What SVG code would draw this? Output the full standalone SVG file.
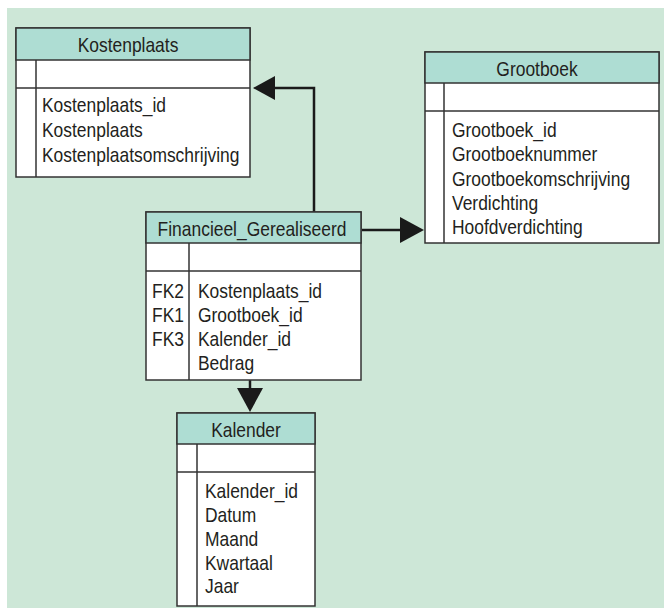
<svg xmlns="http://www.w3.org/2000/svg" width="664" height="608" viewBox="0 0 664 608">
<style>
.box{fill:#ffffff;stroke:#333333;stroke-width:1.5}
.hdr{fill:#aeddd3;stroke:#333333;stroke-width:1.5}
.ln{stroke:#333333;stroke-width:1.5;fill:none}
.t{font-family:"Liberation Sans",Arial,sans-serif;font-size:20.5px;fill:#231f20}
.h{font-family:"Liberation Sans",Arial,sans-serif;font-size:20.5px;fill:#231f20;text-anchor:middle}
.con{stroke:#1a1a1a;stroke-width:2.5;fill:none}
.ah{fill:#1a1a1a}
</style>
<rect x="7" y="8" width="657" height="600" fill="#cde7d7"/>
<g id="connectors">
<polyline class="con" points="314,212 314,88 272,88"/>
<polygon class="ah" points="253,88 275,76 275,100"/>
<line class="con" x1="362" y1="230" x2="402" y2="230"/>
<polygon class="ah" points="424,230 400,217 400,243"/>
<line class="con" x1="250" y1="380" x2="250" y2="392"/>
<polygon class="ah" points="250,412 237,388 263,388"/>
</g>
<g id="Kostenplaats">
<rect class="box" x="16" y="28" width="234" height="149"/>
<rect class="hdr" x="16" y="28" width="234" height="32"/>
<line class="ln" x1="16" y1="88" x2="250" y2="88"/>
<line class="ln" x1="36" y1="60" x2="36" y2="177"/>
<text class="h" transform="translate(128,52) scale(0.85,1)">Kostenplaats</text>
<text class="t" transform="translate(42,112) scale(0.85,1)">Kostenplaats_id</text>
<text class="t" transform="translate(42,137) scale(0.85,1)">Kostenplaats</text>
<text class="t" transform="translate(42,162) scale(0.85,1)">Kostenplaatsomschrijving</text>
</g>
<g id="Grootboek">
<rect class="box" x="425" y="52" width="234" height="191"/>
<rect class="hdr" x="425" y="52" width="234" height="31"/>
<line class="ln" x1="425" y1="111" x2="659" y2="111"/>
<line class="ln" x1="444" y1="83" x2="444" y2="243"/>
<text class="h" transform="translate(537,76) scale(0.85,1)">Grootboek</text>
<text class="t" transform="translate(452,137) scale(0.85,1)">Grootboek_id</text>
<text class="t" transform="translate(452,161) scale(0.85,1)">Grootboeknummer</text>
<text class="t" transform="translate(452,186) scale(0.85,1)">Grootboekomschrijving</text>
<text class="t" transform="translate(452,210) scale(0.85,1)">Verdichting</text>
<text class="t" transform="translate(452,234) scale(0.85,1)">Hoofdverdichting</text>
</g>
<g id="Financieel_Gerealiseerd">
<rect class="box" x="146" y="212" width="215" height="168"/>
<rect class="hdr" x="146" y="212" width="215" height="31"/>
<line class="ln" x1="146" y1="271" x2="361" y2="271"/>
<line class="ln" x1="189" y1="243" x2="189" y2="380"/>
<text class="h" transform="translate(252,236) scale(0.85,1)">Financieel_Gerealiseerd</text>
<text class="t" transform="translate(152,298) scale(0.85,1)">FK2</text>
<text class="t" transform="translate(152,322) scale(0.85,1)">FK1</text>
<text class="t" transform="translate(152,346) scale(0.85,1)">FK3</text>
<text class="t" transform="translate(198,298) scale(0.85,1)">Kostenplaats_id</text>
<text class="t" transform="translate(198,322) scale(0.85,1)">Grootboek_id</text>
<text class="t" transform="translate(198,346) scale(0.85,1)">Kalender_id</text>
<text class="t" transform="translate(198,370) scale(0.85,1)">Bedrag</text>
</g>
<g id="Kalender">
<rect class="box" x="177" y="413" width="138" height="193"/>
<rect class="hdr" x="177" y="413" width="138" height="31"/>
<line class="ln" x1="177" y1="472" x2="315" y2="472"/>
<line class="ln" x1="197" y1="444" x2="197" y2="606"/>
<text class="h" transform="translate(246,437) scale(0.85,1)">Kalender</text>
<text class="t" transform="translate(205,498) scale(0.85,1)">Kalender_id</text>
<text class="t" transform="translate(205,522) scale(0.85,1)">Datum</text>
<text class="t" transform="translate(205,546) scale(0.85,1)">Maand</text>
<text class="t" transform="translate(205,570) scale(0.85,1)">Kwartaal</text>
<text class="t" transform="translate(205,593) scale(0.85,1)">Jaar</text>
</g>
</svg>
